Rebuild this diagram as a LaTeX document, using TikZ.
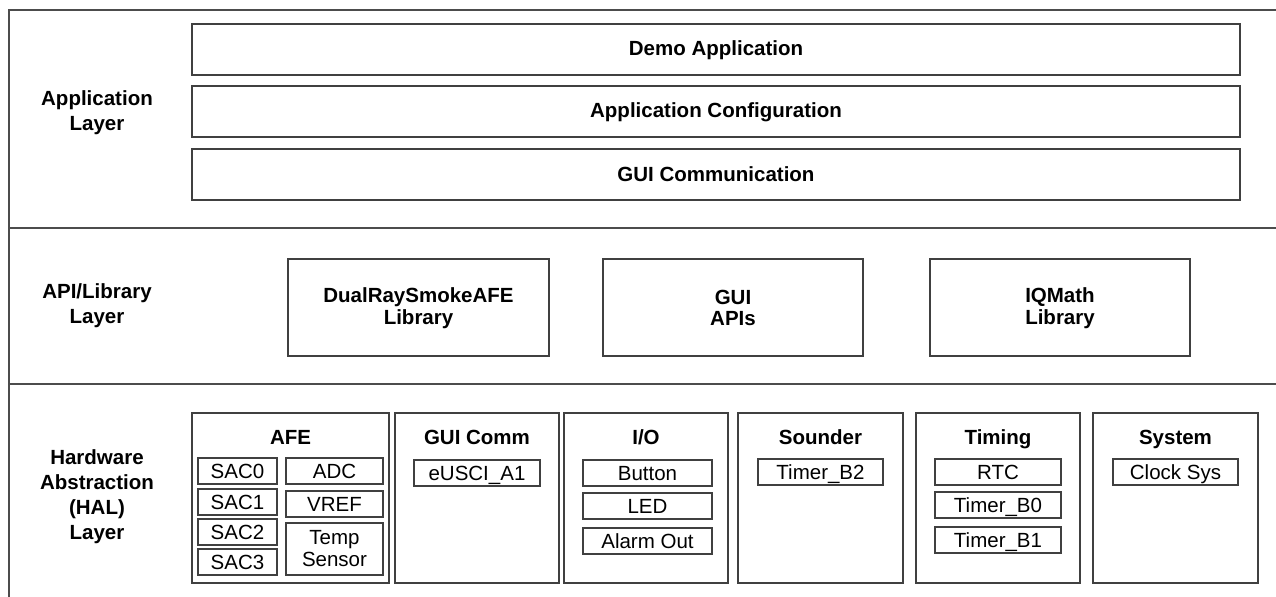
\documentclass[tikz,border=0pt]{standalone}
\usepackage{fontspec}
\setmainfont{Liberation Sans}

\tikzstyle{frame line}=[draw=black!70, line width=1pt]
\tikzstyle{layer label}=[align=center, font=\fontsize{10.25pt}{12.5pt}\selectfont\bfseries]
\tikzstyle{app box}=[draw=black!75, line width=1pt, inner sep=0pt, minimum width=524pt, minimum height=25.5pt, font=\fontsize{10.25pt}{12pt}\selectfont\bfseries]
\tikzstyle{lib box}=[draw=black!75, line width=1pt, inner sep=0pt, minimum height=48.5pt, align=center, font=\fontsize{10.25pt}{10.9pt}\selectfont\bfseries]
\tikzstyle{hal box}=[draw=black!75, line width=1pt, inner sep=0pt, minimum height=85pt]
\tikzstyle{hal title}=[anchor=base, font=\fontsize{10.25pt}{12pt}\selectfont\bfseries]
\tikzstyle{part}=[draw=black!75, line width=1pt, inner sep=0pt, minimum height=13pt, text height=9.3pt, text depth=2pt, font=\fontsize{10.25pt}{11pt}\selectfont]

\begin{document}
\begin{tikzpicture}[x=0.5pt, y=-0.5pt]
	\useasboundingbox (0,0) rectangle (1276,597);
	% layer frame
	\draw[frame line] (1276,10) -- (9,10) -- (9,597);
	\draw[frame line] (9,228) -- (1276,228);
	\draw[frame line] (9,384) -- (1276,384);
	% layer names
	\node[layer label] (app) at (97,113) {Application\\Layer};
	\node[layer label] (api) at (97,306) {API/Library\\Layer};
	\node[layer label] (hal) at (97,497) {Hardware\\Abstraction\\(HAL)\\Layer};
	% application layer
	\foreach \pos/\name/\text in {{(716,50)/demo/Demo Application}, {(716,112)/config/Application Configuration}, {(716,174.5)/guicomm/GUI Communication}}
		\node[app box] (\name) at \pos {\text};
	% API / library layer
	\foreach \pos/\w/\name/\text in {{(418.5,308)/130.5pt/smokelib/DualRaySmokeAFE\\Library}, {(733,308)/130pt/guiapi/GUI\\APIs}, {(1060,308)/130pt/iqmath/IQMath\\Library}}
		\node[lib box, minimum width=\w] (\name) at \pos {\text};
	% HAL groups
	\foreach \cx/\w/\name/\title in {290.5/98.5pt/afe/AFE, 477/82pt/comm/GUI Comm, 646/82pt/io/{I/O}, 820.5/82.5pt/sounder/Sounder, 998/82pt/timing/Timing, 1175.5/82.5pt/system/System} {
		\node[hal box, minimum width=\w] (\name) at (\cx,498) {};
		\node[hal title] (\name title) at (\cx,445) {\title};
	}
	% HAL modules
	\foreach \pos/\w/\name/\text in {{(237.5,471)/39.5pt/sac0/SAC0}, {(237.5,502)/39.5pt/sac1/SAC1}, {(237.5,532.5)/39.5pt/sac2/SAC2}, {(237.5,562.5)/39.5pt/sac3/SAC3},
			{(334.5,471.5)/48.5pt/adc/ADC}, {(334.5,504)/48.5pt/vref/VREF},
			{(477,473)/63pt/euscia1/eUSCI\_A1},
			{(647.5,473)/64.5pt/button/Button}, {(647.5,506.5)/64.5pt/led/LED}, {(647.5,541.5)/64.5pt/alarm/Alarm Out},
			{(820.5,472.5)/62.5pt/timerb2/Timer\_B2},
			{(998,472)/63pt/rtc/RTC}, {(998,505.5)/63pt/timerb0/Timer\_B0}, {(998,540)/63pt/timerb1/Timer\_B1},
			{(1175.5,472)/62.5pt/clocksys/Clock Sys}}
		\node[part, minimum width=\w] (\name) at \pos {\text};
	\node[part, minimum width=48.5pt, minimum height=26pt, text height=, text depth=, align=center] (tempsensor) at (334.5,549) {Temp\\Sensor};
\end{tikzpicture}
\end{document}
